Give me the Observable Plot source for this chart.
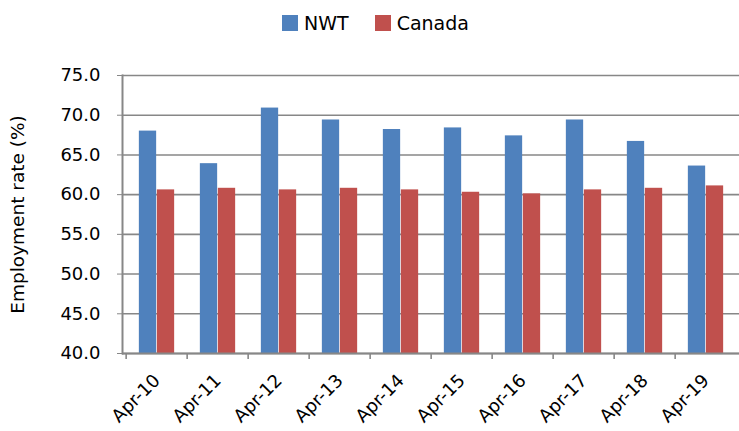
<!DOCTYPE html>
<html>
<head>
<meta charset="utf-8">
<script src="https://cdn.jsdelivr.net/npm/d3@7"></script>
<script src="https://cdn.jsdelivr.net/npm/@observablehq/plot@0.6"></script>
<style>
  html, body { margin: 0; padding: 0; background: #fff; }
  body { width: 739px; height: 431px; overflow: hidden; font-family: "DejaVu Sans", sans-serif; }
  #legend { height: 45px; display: flex; justify-content: center; align-items: center; gap: 26px; font-size: 19px; color: #000; padding-left: 12px; box-sizing: border-box; }
  #legend .item { display: flex; align-items: center; gap: 6px; }
  #legend .sw { width: 16px; height: 16px; display: inline-block; }
</style>
</head>
<body>
<div id="legend"></div>
<div id="chart"></div>
<script>
const categories = ["Apr-10","Apr-11","Apr-12","Apr-13","Apr-14","Apr-15","Apr-16","Apr-17","Apr-18","Apr-19"];
const nwt    = [68.0, 63.9, 70.9, 69.4, 68.2, 68.4, 67.4, 69.4, 66.7, 63.6];
const canada = [60.6, 60.8, 60.6, 60.8, 60.6, 60.3, 60.1, 60.6, 60.8, 61.1];
const seriesNames = ["NWT", "Canada"];
const seriesColors = ["#4F81BD", "#C0504D"];
const yTicks = [40, 45, 50, 55, 60, 65, 70, 75];

const width = 739, height = 386, marginLeft = 122, marginRight = 0;
const bw = (width - marginLeft - marginRight) / categories.length;
const barW = 18;
const half = bw / 2;

const rows = [];
categories.forEach((c, i) => {
  rows.push({cat: c, series: "NWT", value: nwt[i]});
  rows.push({cat: c, series: "Canada", value: canada[i]});
});

const legend = document.getElementById("legend");
seriesNames.forEach((n, i) => {
  const it = document.createElement("span");
  it.className = "item";
  it.innerHTML = `<span class="sw" style="background:${seriesColors[i]}"></span><span>${n}</span>`;
  legend.appendChild(it);
});

const grid = "#878787";
const chart = Plot.plot({
  width, height,
  marginLeft, marginRight,
  marginTop: 30, marginBottom: 78,
  style: {fontFamily: "DejaVu Sans, sans-serif", fontSize: "18px", color: "#000", background: "#fff"},
  x: {domain: categories, padding: 0, axis: null},
  y: {domain: [40, 75], axis: null},
  marks: [
    Plot.ruleY(yTicks, {y: d => d, stroke: grid, strokeWidth: 1.6}),
    Plot.barY(rows.filter(d => d.series === "NWT"), {x: "cat", y1: () => 40, y2: "value", fill: seriesColors[0], insetLeft: half - barW, insetRight: half}),
    Plot.barY(rows.filter(d => d.series === "Canada"), {x: "cat", y1: () => 40, y2: "value", fill: seriesColors[1], insetLeft: half, insetRight: half - barW}),
    Plot.ruleY([40], {stroke: grid, strokeWidth: 2}),
    Plot.frame({anchor: "left", stroke: grid, strokeWidth: 2}),
    Plot.ruleX(categories, {x: d => d, y1: () => 40, y2: () => 40, insetBottom: -6, dx: -half, stroke: grid, strokeWidth: 1.6}),
    Plot.axisY({ticks: yTicks, tickFormat: d3.format(".1f"), tickSize: 5, tickPadding: 17, stroke: grid, fill: "#000", label: null, fontSize: 18}),
    Plot.axisX({tickRotate: -45, tickSize: 0, tickPadding: 24, fill: "#000", label: null, fontSize: 18}),
    Plot.text(["Employment rate (%)"], {frameAnchor: "left", textAnchor: "middle", dx: -104, rotate: -90, fontSize: 18.5, fill: "#000"})
  ]
});
document.getElementById("chart").appendChild(chart);
</script>
</body>
</html>
